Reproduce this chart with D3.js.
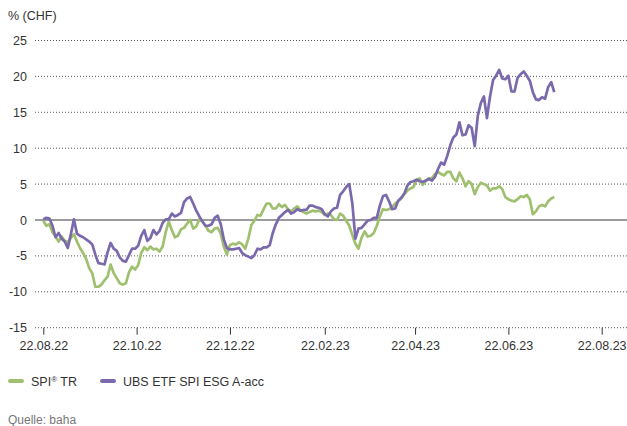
<!DOCTYPE html>
<html>
<head>
<meta charset="utf-8">
<script src="https://cdn.jsdelivr.net/npm/d3@7"></script>
<style>
  html, body { margin: 0; padding: 0; background: #fff; }
  svg { display: block; }
  text { font-family: "Liberation Sans", Arial, Helvetica, sans-serif; }
</style>
</head>
<body>
<svg id="chart" width="627" height="426"></svg>
<script>
const dates = [
  "2022-08-22","2022-08-24","2022-08-26","2022-08-28","2022-08-30",
  "2022-09-01","2022-09-03","2022-09-05","2022-09-07","2022-09-09","2022-09-11","2022-09-13","2022-09-15","2022-09-17","2022-09-19","2022-09-21","2022-09-23","2022-09-25","2022-09-27","2022-09-29",
  "2022-10-01","2022-10-03","2022-10-05","2022-10-07","2022-10-09","2022-10-11","2022-10-13","2022-10-15","2022-10-17","2022-10-19","2022-10-21","2022-10-23","2022-10-25","2022-10-27","2022-10-29","2022-10-31",
  "2022-11-02","2022-11-04","2022-11-06","2022-11-08","2022-11-10","2022-11-12","2022-11-14","2022-11-16","2022-11-18","2022-11-20","2022-11-22","2022-11-24","2022-11-26","2022-11-28","2022-11-30",
  "2022-12-02","2022-12-04","2022-12-06","2022-12-08","2022-12-10","2022-12-12","2022-12-14","2022-12-16","2022-12-18","2022-12-20","2022-12-22","2022-12-24","2022-12-26","2022-12-28","2022-12-30",
  "2023-01-01","2023-01-03","2023-01-05","2023-01-07","2023-01-09","2023-01-11","2023-01-13","2023-01-15","2023-01-17","2023-01-19","2023-01-21","2023-01-23","2023-01-25","2023-01-27","2023-01-29","2023-01-31",
  "2023-02-02","2023-02-04","2023-02-06","2023-02-08","2023-02-10","2023-02-12","2023-02-14","2023-02-16","2023-02-18","2023-02-20","2023-02-22","2023-02-24","2023-02-26","2023-02-28",
  "2023-03-02","2023-03-04","2023-03-06","2023-03-08","2023-03-10","2023-03-12","2023-03-14","2023-03-16","2023-03-18","2023-03-20","2023-03-22","2023-03-24","2023-03-26","2023-03-28","2023-03-30",
  "2023-04-01","2023-04-03","2023-04-05","2023-04-07","2023-04-09","2023-04-11","2023-04-13","2023-04-15","2023-04-17","2023-04-19","2023-04-21","2023-04-23","2023-04-25","2023-04-27","2023-04-29",
  "2023-05-01","2023-05-03","2023-05-05","2023-05-07","2023-05-09","2023-05-11","2023-05-13","2023-05-15","2023-05-17","2023-05-19","2023-05-21","2023-05-23","2023-05-25","2023-05-27","2023-05-29","2023-05-31",
  "2023-06-02","2023-06-04","2023-06-06","2023-06-08","2023-06-10","2023-06-12","2023-06-14","2023-06-16","2023-06-18","2023-06-20","2023-06-22","2023-06-24","2023-06-26","2023-06-28","2023-06-30",
  "2023-07-02","2023-07-04","2023-07-06","2023-07-08","2023-07-10","2023-07-12","2023-07-14","2023-07-16","2023-07-18","2023-07-20","2023-07-22"
];

// SPI® TR (%)
const spi = [
  -0.1, -0.8, -0.6, -1.7, -2.3,
  -3.0, -2.3, -2.9, -3.1, -2.5, -2.0, -3.0, -3.9, -4.6, -5.4, -6.7, -7.4, -9.3, -9.3, -9.0,
  -8.4, -7.9, -6.2, -7.4, -8.1, -8.8, -9.0, -8.8, -7.3, -6.5, -6.9, -6.3, -4.6, -3.8, -4.2, -3.7,
  -4.1, -4.0, -4.4, -3.7, -1.7, -0.2, -1.4, -2.4, -2.2, -1.3, -1.1, -0.5, 0.0, -1.2, -0.9,
  0.1, -0.2, -0.8, -1.5, -1.7, -1.2, -1.1, -1.9, -3.7, -4.8, -3.5, -3.3, -3.4, -3.1, -3.4,
  -4.0, -2.6, -0.7, -0.1, 0.7, 0.6, 1.5, 2.3, 2.3, 1.6, 1.6, 2.2, 1.8, 2.1, 1.5, 1.2,
  1.6, 1.9, 1.4, 1.1, 0.9, 1.1, 1.3, 1.2, 1.3, 1.1, 0.7, 0.9, 0.7, 0.1,
  0.0, 0.9, 0.6, -0.1, -0.8, -2.1, -3.3, -4.0, -2.5, -1.6, -2.3, -2.2, -1.8, -0.8, 0.5,
  1.5, 1.4, 1.5, 1.8, 2.3, 2.6, 3.0, 3.6, 4.1, 4.4, 4.6, 5.6, 5.8, 4.9, 5.4,
  5.8, 5.8, 6.4, 6.7, 6.4, 6.2, 6.7, 6.7, 5.8, 5.4, 6.6, 5.8, 4.7, 5.4, 5.0, 3.6,
  4.6, 5.2, 5.0, 4.8, 4.1, 4.4, 4.4, 4.7, 4.3, 3.2, 2.9, 2.7, 2.6, 2.9, 3.3,
  3.2, 3.5, 2.9, 0.8, 1.2, 1.9, 2.1, 1.9, 2.6, 3.0, 3.2
];

// UBS ETF SPI ESG A-acc (%)
const ubs = [
  0.1, 0.3, 0.2, -0.8, -2.4,
  -1.8, -2.6, -3.0, -3.9, -2.0, 0.1, -1.9, -2.2, -2.4, -2.7, -3.0, -3.4, -4.8, -6.0, -6.1,
  -6.2, -4.5, -3.2, -4.0, -4.3, -5.2, -5.7, -5.8, -4.9, -4.0, -4.0, -3.6, -2.2, -1.4, -2.9, -2.5,
  -1.4, -2.0, -1.5, -0.4, 0.1, 0.1, 0.9, 0.5, 0.7, 1.0, 2.5, 3.0, 3.2, 2.3, 1.3,
  0.5, -0.2, -0.8, -0.8, -0.6, 0.3, 0.6, -0.6, -2.7, -3.9, -4.1, -4.1, -4.0, -3.9, -4.6,
  -4.9, -5.1, -5.3, -4.9, -4.0, -4.1, -3.8, -3.8, -3.5, -1.8, -0.6, 0.3, 0.7, 1.1, 1.4, 0.9,
  1.1, 1.5, 1.3, 1.4, 1.4, 2.0, 2.0, 1.8, 1.7, 1.5, 0.8, 0.5, 1.2, 1.6,
  1.7, 3.5, 4.0, 4.6, 5.0, 2.3, -2.6, -1.2, -1.1, -0.6, -0.1, 0.0, 0.3, 0.3, 2.0,
  3.3, 3.5, 2.6, 1.5, 1.6, 2.7, 3.1, 3.7, 4.8, 5.3, 5.4, 5.6, 5.4, 5.3, 5.5,
  5.7, 5.5, 6.0, 7.1, 8.0, 7.7, 8.9, 10.4, 11.5, 11.9, 13.6, 11.8, 11.9, 13.2, 12.8, 10.3,
  14.5, 16.3, 17.2, 14.2, 17.2, 19.5, 20.1, 20.9, 19.7, 19.6, 20.1, 17.9, 17.9, 19.8, 20.3,
  20.7, 20.1, 19.4, 17.8, 16.8, 16.7, 17.1, 16.9, 18.5, 19.2, 17.8
];

const yTicks = [25, 20, 15, 10, 5, 0, -5, -10, -15];
const xTickDates = ["2022-08-22","2022-10-22","2022-12-22","2023-02-22","2023-04-22","2023-06-22","2023-08-22"];
const seriesNames = [["SPI", "®", " TR"], ["UBS ETF SPI ESG A-acc"]];
const unitLabel = "% (CHF)";
const sourceLabel = "Quelle: baha";

const colors = { spi: "#9fc06e", ubs: "#7a69ac" };
const parse = d3.timeParse("%Y-%m-%d");
const fmt = d3.timeFormat("%d.%m.%y");

const svg = d3.select("#chart");
const x = d3.scaleTime()
  .domain([parse(xTickDates[0]), parse(xTickDates[xTickDates.length - 1])])
  .range([43.3, 601.7]);
const y = d3.scaleLinear().domain([-15, 25]).range([327.7, 40.5]);

// unit label
svg.append("text").attr("x", 8).attr("y", 20)
  .attr("font-size", 12.5).attr("fill", "#333").text(unitLabel);

// horizontal gridlines
const gridG = svg.append("g");
gridG.selectAll("line.grid").data(yTicks.filter(d => d !== 0)).enter().append("line")
  .attr("x1", 35).attr("x2", 627)
  .attr("y1", d => y(d)).attr("y2", d => y(d))
  .attr("stroke", "#555").attr("stroke-width", 1)
  .attr("stroke-dasharray", "1,2");

// y axis labels
const yAxis = d3.axisLeft(y).tickValues(yTicks).tickSize(0).tickPadding(0)
  .tickFormat(d => String(d));
const yg = svg.append("g").attr("transform", "translate(27,0)").call(yAxis);
yg.select(".domain").remove();
yg.selectAll("text").attr("font-size", 12.5).attr("fill", "#333")
  .attr("font-family", "'Liberation Sans', Arial, sans-serif");

// x axis
const xAxis = d3.axisBottom(x).tickValues(xTickDates.map(parse)).tickSize(7).tickPadding(6)
  .tickFormat(fmt);
const xg = svg.append("g").attr("transform", `translate(0,${y(-15)})`).call(xAxis);
xg.select(".domain").remove();
xg.selectAll(".tick line").attr("stroke", "#333").attr("stroke-width", 1);
xg.selectAll("text").attr("font-size", 12.5).attr("fill", "#333")
  .attr("font-family", "'Liberation Sans', Arial, sans-serif");

// zero line
svg.append("line").attr("x1", 35).attr("x2", 627)
  .attr("y1", y(0)).attr("y2", y(0))
  .attr("stroke", "#7a7a7a").attr("stroke-width", 1.6);

// lines
const parsedDates = dates.map(parse);
const line = d3.line()
  .x((d, i) => x(parsedDates[i]))
  .y(d => y(d))
  .curve(d3.curveLinear);

svg.append("path").datum(spi).attr("d", line)
  .attr("fill", "none").attr("stroke", colors.spi).attr("stroke-width", 2.7)
  .attr("stroke-linejoin", "round");
svg.append("path").datum(ubs).attr("d", line)
  .attr("fill", "none").attr("stroke", colors.ubs).attr("stroke-width", 2.7)
  .attr("stroke-linejoin", "round");

// legend
const legend = svg.append("g");
const legendItems = [
  { parts: seriesNames[0], color: colors.spi, x: 9 },
  { parts: seriesNames[1], color: colors.ubs, x: 101 }
];
legendItems.forEach(it => {
  legend.append("line").attr("x1", it.x + 1).attr("x2", it.x + 13)
    .attr("y1", 381).attr("y2", 381)
    .attr("stroke", it.color).attr("stroke-width", 4).attr("stroke-linecap", "round");
  const t = legend.append("text").attr("x", it.x + 22).attr("y", 385.5)
    .attr("font-size", 12.5).attr("fill", "#333");
  let raised = false;
  it.parts.forEach(p => {
    if (p === "®") {
      t.append("tspan").attr("font-size", 8).attr("dy", -4).text(p);
      raised = true;
    } else {
      const ts = t.append("tspan").text(p);
      if (raised) { ts.attr("dy", 4); raised = false; }
    }
  });
});

// source
svg.append("text").attr("x", 8).attr("y", 424)
  .attr("font-size", 12).attr("fill", "#777").text(sourceLabel);
</script>
</body>
</html>
